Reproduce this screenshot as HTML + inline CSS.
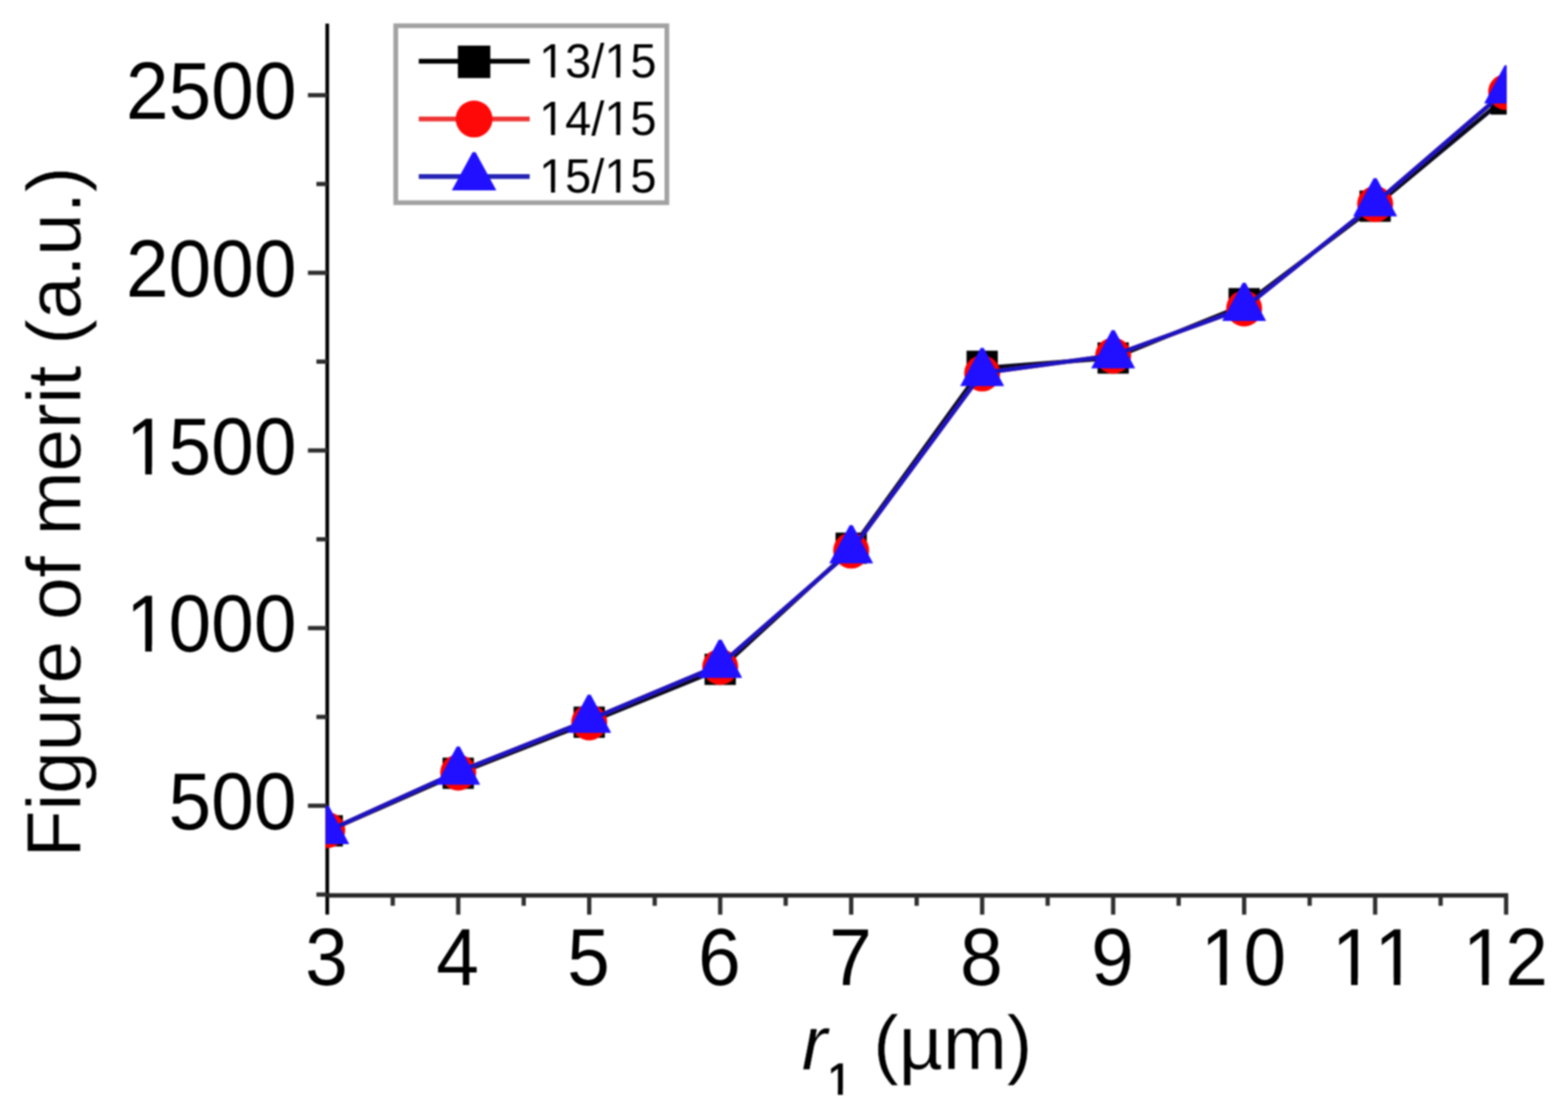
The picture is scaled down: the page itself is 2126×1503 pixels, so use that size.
<!DOCTYPE html>
<html lang="en"><head><meta charset="utf-8">
<style>
html,body{margin:0;padding:0;background:#fff;}
body{width:2126px;height:1503px;overflow:hidden;}
svg{display:block;filter:blur(1.1px);}
text{font-family:"Liberation Sans",sans-serif;fill:#000;font-kerning:none;font-variant-ligatures:none;}
.tick{font-size:104px;}
.lab{font-size:104px;stroke:#fff;stroke-width:0.5px;}
.leg{font-size:63.6px;}
.ylab{letter-spacing:-0.28px;}
</style></head><body>
<svg width="2126" height="1503" viewBox="0 0 2126 1503">
<rect x="0" y="0" width="2126" height="1503" fill="#fff"/>
<defs><clipPath id="plot"><rect x="441.6" y="32" width="1601.3" height="1181.5"/></clipPath></defs>
<g stroke="#111" stroke-width="5.6" fill="none">
<line x1="443.7" y1="32" x2="443.7" y2="1239.6" stroke="#000" stroke-width="5"/>
<line x1="443.7" y1="1213.5" x2="2044.9" y2="1213.5" stroke="#262626" stroke-width="6.2"/>
</g>
<g stroke="#2e2e2e" stroke-width="5.8" fill="none">
<line x1="621.3" y1="1213.5" x2="621.3" y2="1239.6"/>
<line x1="798.9" y1="1213.5" x2="798.9" y2="1239.6"/>
<line x1="976.5" y1="1213.5" x2="976.5" y2="1239.6"/>
<line x1="1154.1" y1="1213.5" x2="1154.1" y2="1239.6"/>
<line x1="1331.7" y1="1213.5" x2="1331.7" y2="1239.6"/>
<line x1="1509.3" y1="1213.5" x2="1509.3" y2="1239.6"/>
<line x1="1686.9" y1="1213.5" x2="1686.9" y2="1239.6"/>
<line x1="1864.5" y1="1213.5" x2="1864.5" y2="1239.6"/>
<line x1="2042.1" y1="1213.5" x2="2042.1" y2="1239.6"/>
<line x1="532.5" y1="1213.5" x2="532.5" y2="1227.6"/>
<line x1="710.1" y1="1213.5" x2="710.1" y2="1227.6"/>
<line x1="887.7" y1="1213.5" x2="887.7" y2="1227.6"/>
<line x1="1065.3" y1="1213.5" x2="1065.3" y2="1227.6"/>
<line x1="1242.9" y1="1213.5" x2="1242.9" y2="1227.6"/>
<line x1="1420.5" y1="1213.5" x2="1420.5" y2="1227.6"/>
<line x1="1598.1" y1="1213.5" x2="1598.1" y2="1227.6"/>
<line x1="1775.7" y1="1213.5" x2="1775.7" y2="1227.6"/>
<line x1="1953.3" y1="1213.5" x2="1953.3" y2="1227.6"/>
<line x1="417.5" y1="1092" x2="443.7" y2="1092"/>
<line x1="417.5" y1="851.25" x2="443.7" y2="851.25"/>
<line x1="417.5" y1="610.5" x2="443.7" y2="610.5"/>
<line x1="417.5" y1="369.75" x2="443.7" y2="369.75"/>
<line x1="417.5" y1="129" x2="443.7" y2="129"/>
<line x1="429" y1="1212.38" x2="443.7" y2="1212.38"/>
<line x1="429" y1="971.62" x2="443.7" y2="971.62"/>
<line x1="429" y1="730.88" x2="443.7" y2="730.88"/>
<line x1="429" y1="490.12" x2="443.7" y2="490.12"/>
<line x1="429" y1="249.38" x2="443.7" y2="249.38"/>
</g>
<g clip-path="url(#plot)" stroke-linejoin="round">
<polyline points="443.7,1126.7 621.3,1048.24 798.9,978.82 976.5,906.56 1154.1,744.24 1331.7,498.96 1509.3,485.12 1686.9,413.42 1864.5,279.28 2042.1,132.2" fill="none" stroke="#08081c" stroke-width="5.8"/>
<rect x="422.5" y="1104.8" width="42.4" height="42.4" fill="#000"/>
<rect x="600.1" y="1026.8" width="42.4" height="42.4" fill="#000"/>
<rect x="777.7" y="957.6" width="42.4" height="42.4" fill="#000"/>
<rect x="955.3" y="885.9" width="42.4" height="42.4" fill="#000"/>
<rect x="1132.9" y="721.8" width="42.4" height="42.4" fill="#000"/>
<rect x="1310.5" y="475.3" width="42.4" height="42.4" fill="#000"/>
<rect x="1488.1" y="464" width="42.4" height="42.4" fill="#000"/>
<rect x="1665.7" y="390.4" width="42.4" height="42.4" fill="#000"/>
<rect x="1843.3" y="258.2" width="42.4" height="42.4" fill="#000"/>
<rect x="2020.9" y="112.9" width="42.4" height="42.4" fill="#000"/>
<polyline points="443.7,1126.3 621.3,1046 798.9,975.7 976.5,901.2 1154.1,746 1331.7,505.6 1509.3,481.6 1686.9,417.5 1864.5,275.6 2042.1,122.7" fill="none" stroke="#e83030" stroke-width="5.8"/>
<circle cx="443.7" cy="1125" r="24.4" fill="#f00"/>
<circle cx="621.3" cy="1047" r="24.4" fill="#f00"/>
<circle cx="798.9" cy="979" r="24.4" fill="#f00"/>
<circle cx="976.5" cy="903.8" r="24.4" fill="#f00"/>
<circle cx="1154.1" cy="746.1" r="24.4" fill="#f00"/>
<circle cx="1331.7" cy="506.1" r="24.4" fill="#f00"/>
<circle cx="1509.3" cy="482" r="24.4" fill="#f00"/>
<circle cx="1686.9" cy="418" r="24.4" fill="#f00"/>
<circle cx="1864.5" cy="276.6" r="24.4" fill="#f00"/>
<circle cx="2042.1" cy="124.7" r="24.4" fill="#f00"/>
<polyline points="443.7,1126.3 621.3,1046 798.9,975.7 976.5,901.2 1154.1,746 1331.7,505.6 1509.3,481.6 1686.9,417.5 1864.5,275.6 2042.1,122.7" fill="none" stroke="#1a14c0" stroke-width="5.8"/>
<polygon points="441.7,1092.1 445.7,1092.1 473.5,1143.9 413.9,1143.9" fill="#2010ff"/>
<polygon points="619.3,1011.8 623.3,1011.8 651.1,1063.6 591.5,1063.6" fill="#2010ff"/>
<polygon points="796.9,941.5 800.9,941.5 828.7,993.3 769.1,993.3" fill="#2010ff"/>
<polygon points="974.5,867 978.5,867 1006.3,918.8 946.7,918.8" fill="#2010ff"/>
<polygon points="1152.1,711.8 1156.1,711.8 1183.9,763.6 1124.3,763.6" fill="#2010ff"/>
<polygon points="1329.7,471.4 1333.7,471.4 1361.5,523.2 1301.9,523.2" fill="#2010ff"/>
<polygon points="1507.3,447.4 1511.3,447.4 1539.1,499.2 1479.5,499.2" fill="#2010ff"/>
<polygon points="1684.9,383.3 1688.9,383.3 1716.7,435.1 1657.1,435.1" fill="#2010ff"/>
<polygon points="1862.5,241.4 1866.5,241.4 1894.3,293.2 1834.7,293.2" fill="#2010ff"/>
<polygon points="2040.1,88.5 2044.1,88.5 2071.9,140.3 2012.3,140.3" fill="#2010ff"/>
</g>
<rect x="536.6" y="34.9" width="367.6" height="239.8" fill="#fff" stroke="#a2a2a2" stroke-width="6.4"/>
<line x1="567.8" y1="83" x2="718.2" y2="83" stroke="#000" stroke-width="6.6"/>
<rect x="620.8" y="61.8" width="44" height="44" fill="#000"/>
<line x1="567.8" y1="161.3" x2="718.2" y2="161.3" stroke="#ee3434" stroke-width="6.6"/>
<circle cx="642.8" cy="161.3" r="25" fill="#ff0808"/>
<line x1="567.8" y1="239.2" x2="718.2" y2="239.2" stroke="#2424b4" stroke-width="6.6"/>
<polygon points="640.8,206.2 644.8,206.2 673,258.1 612.6,258.1" fill="#2010ff"/>
<text class="leg" transform="translate(731,105.4) scale(1,1.012)" text-anchor="start">13/15</text>
<text class="leg" transform="translate(731,183.1) scale(1,1.012)" text-anchor="start">14/15</text>
<text class="leg" transform="translate(731,260.8) scale(1,1.012)" text-anchor="start">15/15</text>
<text class="tick" transform="translate(413.78,1335) scale(1,1.06)" text-anchor="start">3</text>
<text class="tick" transform="translate(591.38,1335) scale(1,1.06)" text-anchor="start">4</text>
<text class="tick" transform="translate(768.98,1335) scale(1,1.06)" text-anchor="start">5</text>
<text class="tick" transform="translate(946.58,1335) scale(1,1.06)" text-anchor="start">6</text>
<text class="tick" transform="translate(1124.18,1335) scale(1,1.06)" text-anchor="start">7</text>
<text class="tick" transform="translate(1301.78,1335) scale(1,1.06)" text-anchor="start">8</text>
<text class="tick" transform="translate(1479.38,1335) scale(1,1.06)" text-anchor="start">9</text>
<text class="tick" transform="translate(1628.06,1335) scale(1,1.06)" text-anchor="start">10</text>
<text class="tick" transform="translate(1805.66,1335) scale(1,1.06)" text-anchor="start">11</text>
<text class="tick" transform="translate(1983.26,1335) scale(1,1.06)" text-anchor="start">12</text>
<text class="tick" transform="translate(228.48,1124.2) scale(1,1.06)" text-anchor="start">500</text>
<text class="tick" transform="translate(170.64,883.45) scale(1,1.06)" text-anchor="start">1000</text>
<text class="tick" transform="translate(170.64,642.7) scale(1,1.06)" text-anchor="start">1500</text>
<text class="tick" transform="translate(170.64,401.95) scale(1,1.06)" text-anchor="start">2000</text>
<text class="tick" transform="translate(170.64,161.2) scale(1,1.06)" text-anchor="start">2500</text>
<text class="lab ylab" transform="translate(109,1162) scale(1,1) rotate(-90)" text-anchor="start">Figure of merit (a.u.)</text>
<text class="lab" transform="translate(1087,1449)"><tspan font-style="italic">r</tspan><tspan font-size="60" dy="34" stroke="#000" stroke-width="1.4">1</tspan><tspan dy="-34"> (µm)</tspan></text>
<g fill="#fff"><rect x="734.64" y="99.39" width="12.45" height="7.21"/><rect x="752.51" y="99.39" width="11.95" height="7.21"/><rect x="823.06" y="99.39" width="12.45" height="7.21"/><rect x="840.93" y="99.39" width="11.95" height="7.21"/><rect x="734.64" y="177.09" width="12.45" height="7.21"/><rect x="752.51" y="177.09" width="11.95" height="7.21"/><rect x="823.06" y="177.09" width="12.45" height="7.21"/><rect x="840.93" y="177.09" width="11.95" height="7.21"/><rect x="734.64" y="254.79" width="12.45" height="7.21"/><rect x="752.51" y="254.79" width="11.95" height="7.21"/><rect x="823.06" y="254.79" width="12.45" height="7.21"/><rect x="840.93" y="254.79" width="11.95" height="7.21"/><rect x="1634.78" y="1325.56" width="19.53" height="10.64"/><rect x="1663.3" y="1325.56" width="18.72" height="10.64"/><rect x="1812.38" y="1325.56" width="19.53" height="10.64"/><rect x="1840.9" y="1325.56" width="18.72" height="10.64"/><rect x="1870.22" y="1325.56" width="19.53" height="10.64"/><rect x="1898.74" y="1325.56" width="18.72" height="10.64"/><rect x="1989.98" y="1325.56" width="19.53" height="10.64"/><rect x="2018.5" y="1325.56" width="18.72" height="10.64"/><rect x="177.36" y="874.01" width="19.53" height="10.64"/><rect x="205.88" y="874.01" width="18.72" height="10.64"/><rect x="177.36" y="633.26" width="19.53" height="10.64"/><rect x="205.88" y="633.26" width="18.72" height="10.64"/><rect x="1123.8" y="1476.12" width="12.17" height="9.28"/><rect x="1142.77" y="1476.12" width="11.7" height="9.28"/></g>
</svg>
</body></html>
